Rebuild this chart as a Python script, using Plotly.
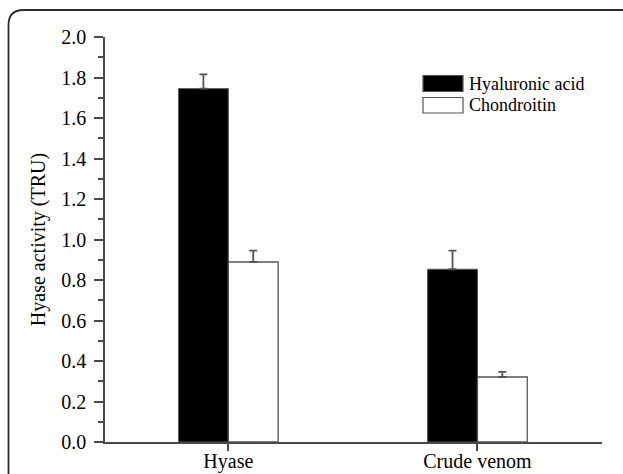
import plotly.graph_objects as go

categories = ["Hyase", "Crude venom"]
hyaluronic = [1.745, 0.853]
hyaluronic_err = [0.07, 0.092]
chondroitin = [0.889, 0.321]
chondroitin_err = [0.056, 0.025]
series_names = ["Hyaluronic acid", "Chondroitin"]
y_ticks = [0.0, 0.2, 0.4, 0.6, 0.8, 1.0, 1.2, 1.4, 1.6, 1.8, 2.0]

W, H = 623, 474
L, R, T, B = 105, 21, 37, 32
PW = W - L - R
PH = H - T - B

def px(x):
    return (x - L) / PW

def py(y):
    return (H - B - y) / PH

FONT = "Liberation Serif, Times New Roman, serif"
AX = "#4a4a4a"

fig = go.Figure()
fig.add_trace(go.Bar(
    x=categories, y=hyaluronic, name=series_names[0],
    marker=dict(color="black", line=dict(color="#555", width=1)),
    error_y=dict(type="data", array=hyaluronic_err, symmetric=False,
                 arrayminus=[0, 0], color="#555", thickness=1.8, width=4),
    showlegend=False,
))
fig.add_trace(go.Bar(
    x=categories, y=chondroitin, name=series_names[1],
    marker=dict(color="white", line=dict(color="#555", width=1.3)),
    error_y=dict(type="data", array=chondroitin_err, symmetric=False,
                 arrayminus=[0, 0], color="#555", thickness=1.8, width=4),
    showlegend=False,
))

shapes = []
# outer rounded frame (top-left corner visible)
xl, yt = px(8.5), py(10)
xr, yb = px(700), py(520)
rx, ry = 15 / PW, 15 / PH
shapes.append(dict(
    type="path", xref="paper", yref="paper",
    path=f"M {xl},{yb} L {xl},{yt - ry} Q {xl},{yt} {xl + rx},{yt} L {xr},{yt}",
    line=dict(color="#2a2a2a", width=1.8),
))
# legend boxes
legend_fill = ["black", "white"]
legend_rows = [(75.5, 91.5), (97.5, 113)]
annotations = []
for name, fill, (y0, y1) in zip(series_names, legend_fill, legend_rows):
    shapes.append(dict(type="rect", xref="paper", yref="paper",
                       x0=px(423), x1=px(463), y0=py(y1), y1=py(y0),
                       fillcolor=fill, line=dict(color="#555", width=1.2)))
    annotations.append(dict(xref="paper", yref="paper", x=px(467), y=py((y0 + y1) / 2),
                            xanchor="left", yanchor="middle", text=name, showarrow=False,
                            font=dict(family=FONT, size=18, color="black")))

fig.update_layout(
    width=W, height=H,
    margin=dict(l=L, r=R, t=T, b=B, autoexpand=False),
    paper_bgcolor="white", plot_bgcolor="white",
    barmode="group", bargap=0.6, bargroupgap=0,
    font=dict(family=FONT, size=18, color="black"),
    shapes=shapes, annotations=annotations,
    xaxis=dict(
        range=[-0.495, 1.5], showline=True, linecolor=AX, linewidth=1.5,
        ticks="outside", ticklen=7, tickwidth=1.5, tickcolor=AX,
        showgrid=False, zeroline=False, ticklabelstandoff=-7, automargin=False,
        tickfont=dict(family=FONT, size=20, color="black"),
    ),
    yaxis=dict(
        range=[0, 2.0], tickvals=y_ticks, tickformat=".1f",
        showline=True, linecolor=AX, linewidth=1.5,
        ticks="outside", ticklen=9, tickwidth=1.5, tickcolor=AX,
        minor=dict(dtick=0.1, ticks="outside", ticklen=5, tickwidth=1.5, tickcolor=AX),
        showgrid=False, zeroline=False, ticklabelstandoff=4, automargin=False,
        tickfont=dict(family=FONT, size=20, color="black"),
        title=dict(text="Hyase activity (TRU)", standoff=10,
                   font=dict(family=FONT, size=20, color="black")),
    ),
)

fig.write_html("out.html")
